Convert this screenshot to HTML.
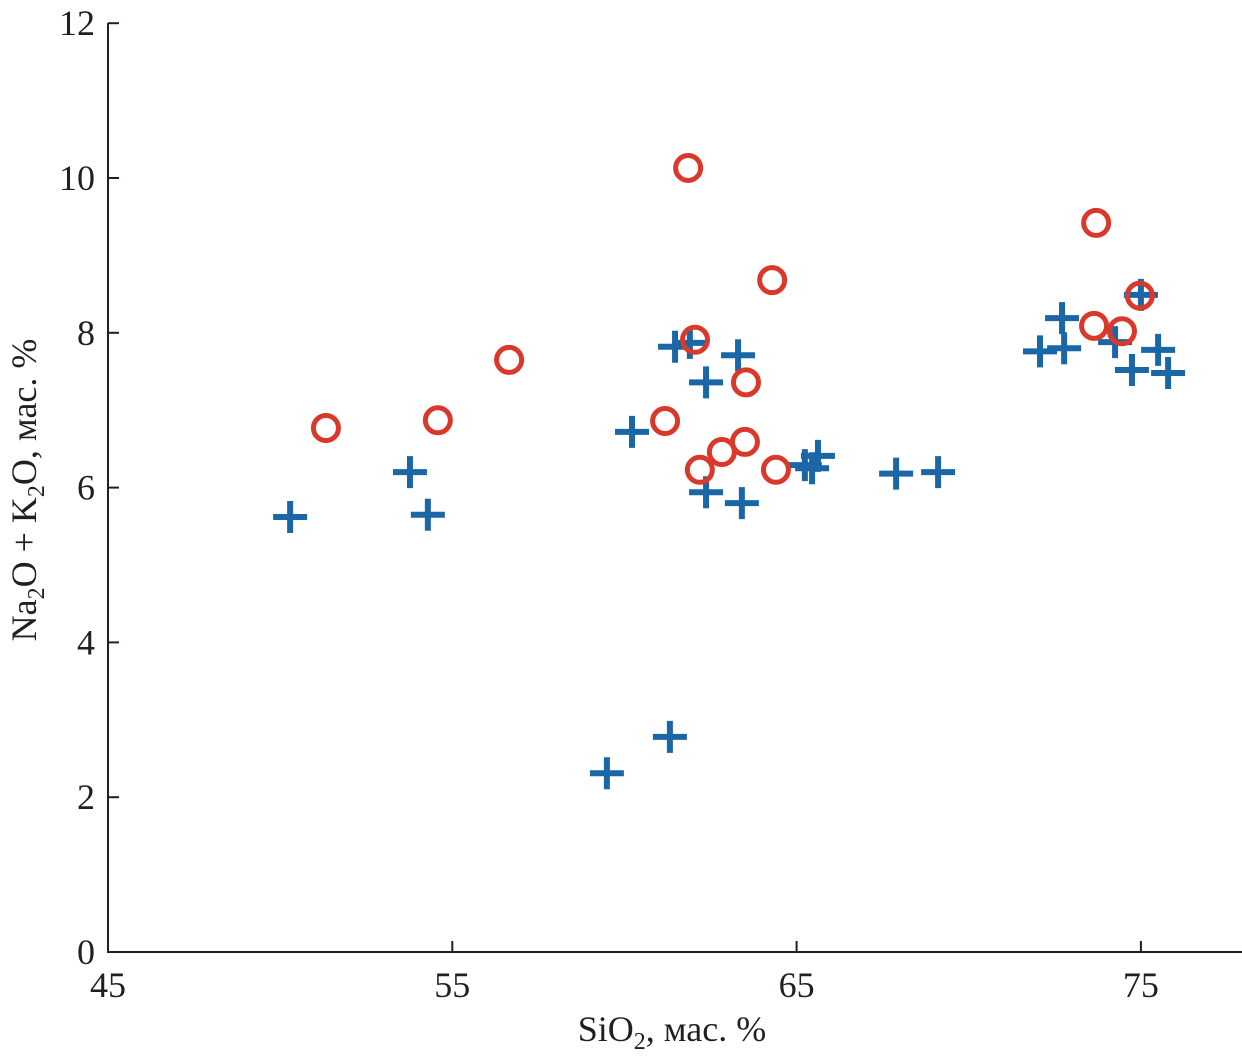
<!DOCTYPE html>
<html><head><meta charset="utf-8"><style>
html,body{margin:0;padding:0;background:#fff}
svg{display:block}
text{font-family:"Liberation Serif",serif;fill:#231f20}
</style></head><body>
<svg width="1242" height="1064">
<g id="axes"></g><g id="marks"></g>
<text x="672" y="1041" font-size="36" text-anchor="middle">SiO<tspan font-size="24" dy="8">2</tspan><tspan dy="-8">, мас. %</tspan></text>
<text transform="translate(36,490) rotate(-90)" font-size="36" text-anchor="middle">Na<tspan font-size="24" dy="8">2</tspan><tspan dy="-8">O + K</tspan><tspan font-size="24" dy="8">2</tspan><tspan dy="-8">O, мас. %</tspan></text>
</svg>
<script>
const xTicks=[45,55,65,75];
const yTicks=[0,2,4,6,8,10,12];
const plusX=[50.29,53.77,54.29,59.49,61.32,60.22,61.47,61.90,62.37,63.30,62.37,63.41,65.24,65.45,65.62,67.89,69.11,72.07,72.71,72.77,74.25,74.74,75.50,75.79,75.00];
const plusY=[5.62,6.20,5.65,2.31,2.78,6.72,7.82,7.87,7.36,7.71,5.94,5.80,6.29,6.25,6.41,6.18,6.20,7.76,8.19,7.80,7.88,7.52,7.78,7.48,8.49];
const circX=[51.33,54.58,56.65,61.18,61.85,62.05,62.19,62.83,63.50,63.53,64.29,64.40,73.70,73.64,74.45,74.97];
const circY=[6.77,6.87,7.65,6.86,10.13,7.91,6.23,6.46,6.59,7.36,8.68,6.23,9.42,8.09,8.02,8.48];
const NS='http://www.w3.org/2000/svg';
const sx=v=>108+(v-45)*34.43;
const sy=v=>952-v*77.4;
const axes=document.getElementById('axes'),marks=document.getElementById('marks');
function mk(tag,attrs,parent){const e=document.createElementNS(NS,tag);for(const k in attrs)e.setAttribute(k,attrs[k]);parent.appendChild(e);return e;}
let l=mk('line',{x1:108,y1:23,x2:108,y2:952,stroke:'#231f20','stroke-width':2},axes);


l=mk('line',{x1:107,y1:952,x2:1242,y2:952,stroke:'#231f20','stroke-width':2},axes);


xTicks.forEach(v=>{
 const t=mk('line',{x1:sx(v),y1:952,x2:sx(v),y2:941,stroke:'#231f20','stroke-width':2},axes);
 
 
 const tx=mk('text',{x:sx(v),y:997,'font-size':36,'text-anchor':'middle'},axes);
 tx.textContent=v;
 
 
});
yTicks.forEach(v=>{
 const t=mk('line',{x1:108,y1:sy(v),x2:119,y2:sy(v),stroke:'#231f20','stroke-width':2},axes);
 
 
 const tx=mk('text',{x:95,y:sy(v)+12,'font-size':36,'text-anchor':'end'},axes);
 tx.textContent=v;
 
 
});
plusX.forEach((v,i)=>{
 const x=sx(v),y=sy(plusY[i]);
 const p=mk('path',{d:`M${x-17},${y}H${x+17}M${x},${y-16}V${y+16}`,stroke:'#1a66a6','stroke-width':6,fill:'none'},marks);
 
 
});
circX.forEach((v,i)=>{
 const c=mk('circle',{cx:sx(v),cy:sy(circY[i]),r:12.5,stroke:'#d9382a','stroke-width':5,fill:'none'},marks);
 
 
});
</script>
</body></html>
